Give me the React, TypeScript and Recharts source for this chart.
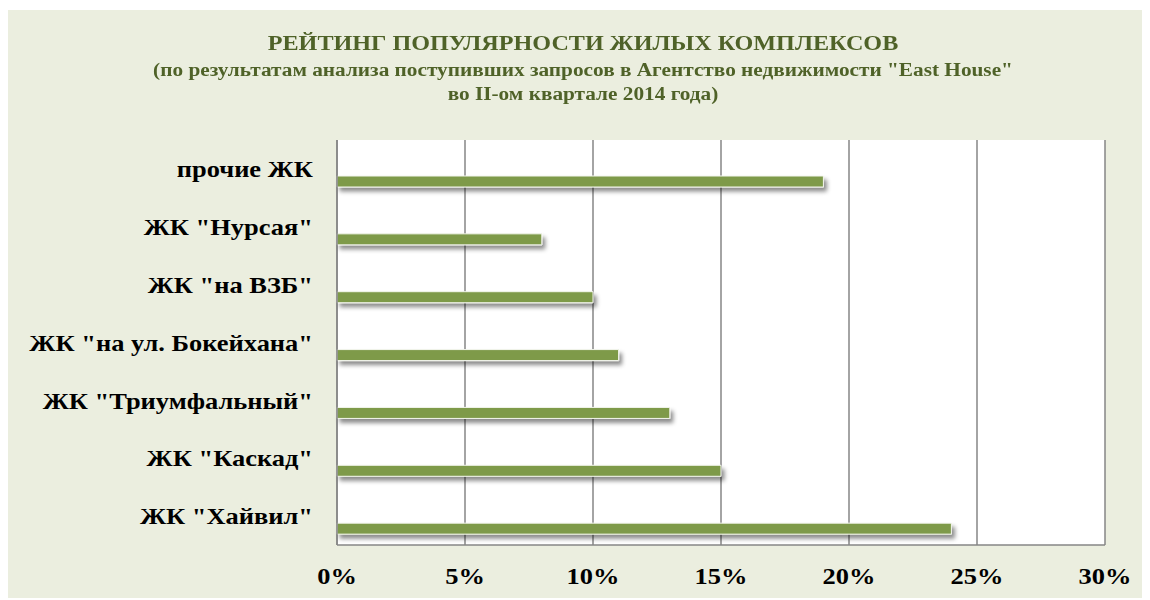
import { BarChart, Bar, XAxis, YAxis, CartesianGrid } from 'recharts'

const complexes = [
  'прочие ЖК',
  'ЖК "Нурсая"',
  'ЖК "на ВЗБ"',
  'ЖК "на ул. Бокейхана"',
  'ЖК "Триумфальный"',
  'ЖК "Каскад"',
  'ЖК "Хайвил"',
]
const shares = [19, 8, 10, 11, 13, 15, 24]
const percentTicks = [0, 5, 10, 15, 20, 25, 30]

const titleLines = [
  'РЕЙТИНГ ПОПУЛЯРНОСТИ ЖИЛЫХ КОМПЛЕКСОВ',
  '(по результатам анализа поступивших запросов в Агентство недвижимости "East House"',
  'во II-ом квартале 2014 года)',
]

const data = complexes.map((name, i) => ({ name, share: shares[i] }))

const serif = '"Liberation Serif", "Times New Roman", serif'
// the original text is a bit wider than Liberation Serif, stretch it
const stretch = 1.15

function NameTick({ x, y, payload }: any) {
  return (
    <text
      transform={`translate(${x},${y}) scale(${stretch},1)`}
      textAnchor="end"
      dy="0.355em"
      fill="#000"
      fontSize={23}
      fontWeight="bold"
      fontFamily={serif}
    >
      {payload.value}
    </text>
  )
}

function PercentTick({ x, y, payload }: any) {
  return (
    <text
      transform={`translate(${x},${y}) scale(${stretch},1)`}
      textAnchor="middle"
      dy="0.71em"
      fill="#000"
      fontSize={23}
      fontWeight="bold"
      fontFamily={serif}
    >
      {`${payload.value}%`}
    </text>
  )
}

const lineStyle = { transform: `scaleX(${stretch})`, whiteSpace: 'nowrap' as const }

export default function App() {
  return (
    <div style={{ position: 'relative', top: 2, width: 1142, height: 590, background: '#EBEEDF' }}>
      <BarChart
        width={1142}
        height={590}
        layout="vertical"
        data={data}
        margin={{ top: 130, right: 45, bottom: 0, left: 0 }}
        barGap={14}
        style={{ position: 'absolute', left: 0, top: 0 }}
      >
        <defs>
          <filter id="barShadow" x="-5%" y="-60%" width="115%" height="280%">
            <feDropShadow dx="3" dy="4" stdDeviation="2.2" floodColor="#000" floodOpacity="0.45" />
          </filter>
        </defs>
        <CartesianGrid horizontal={false} fill="#FFFFFF" stroke="#868686" strokeWidth={1.5} />
        <XAxis
          type="number"
          domain={[0, 30]}
          ticks={percentTicks}
          height={55}
          tickLine={false}
          tickMargin={17}
          axisLine={{ stroke: '#868686', strokeWidth: 1.5 }}
          tick={<PercentTick />}
        />
        <YAxis
          type="category"
          dataKey="name"
          width={329}
          tickLine={false}
          tickMargin={18}
          axisLine={{ stroke: '#868686', strokeWidth: 1.5 }}
          tick={<NameTick />}
        />
        <Bar dataKey="blank" barSize={11} isAnimationActive={false} />
        <Bar
          dataKey="share"
          barSize={11}
          fill="#7E9A4A"
          stroke="#F4F6EE"
          strokeWidth={1}
          filter="url(#barShadow)"
          isAnimationActive={false}
        />
      </BarChart>
      <div
        style={{
          position: 'absolute',
          left: 0,
          top: 21,
          width: 1150,
          textAlign: 'center',
          fontFamily: serif,
          fontWeight: 'bold',
          color: '#4F6228',
        }}
      >
        <div style={{ ...lineStyle, fontSize: 21, lineHeight: '24px' }}>{titleLines[0]}</div>
        <div style={{ ...lineStyle, fontSize: 18.5, lineHeight: '24px', marginTop: 3 }}>{titleLines[1]}</div>
        <div style={{ ...lineStyle, fontSize: 18.5, lineHeight: '24px' }}>{titleLines[2]}</div>
      </div>
    </div>
  )
}
